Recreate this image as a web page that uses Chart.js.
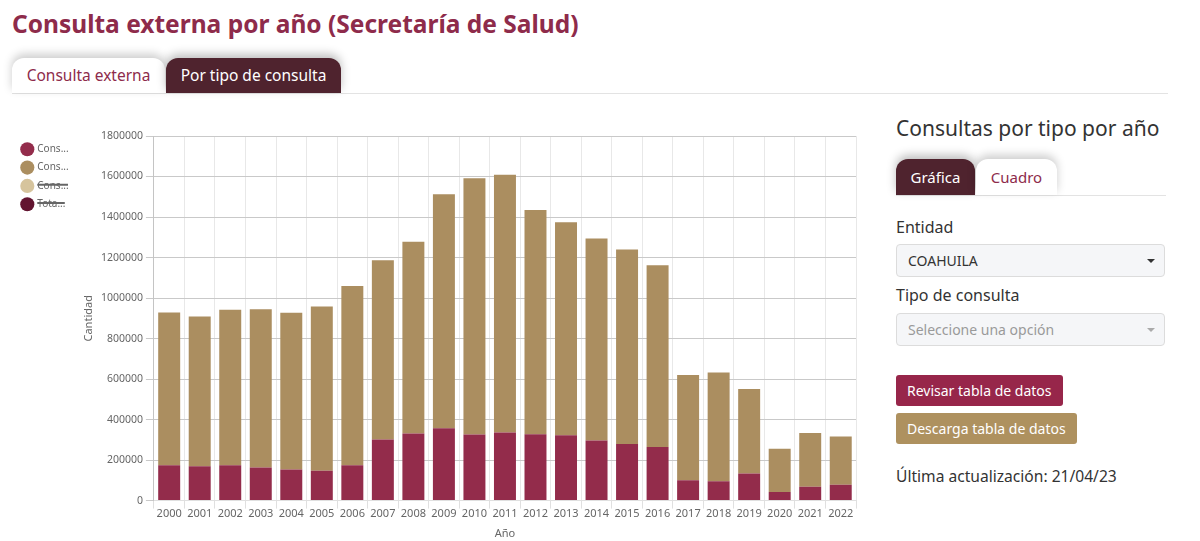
<!DOCTYPE html>
<html lang="es">
<head>
<meta charset="utf-8">
<script src="https://cdn.jsdelivr.net/npm/chart.js@4.4.0/dist/chart.umd.min.js"></script>
<style>
  html, body { margin: 0; padding: 0; background: #fff; }
  body { width: 1200px; height: 541px; position: relative; overflow: hidden; font-family: "Noto Sans", sans-serif; color: #333; }
  h1 { position: absolute; left: 12px; top: 7px; margin: 0; font-size: 24.5px; font-weight: 700; color: #8e2b4b; letter-spacing: 0; }
  .tabs { position: absolute; left: 12px; top: 58px; width: 1156px; height: 35px; border-bottom: 1px solid #e3e3e3; }
  .tab { position: absolute; top: 0; height: 35px; line-height: 34px; font-size: 15.5px; text-align: center; border-radius: 12px 12px 0 0; box-sizing: border-box; }
  .tab.on { background: #4f232e; color: #fff; box-shadow: 0 -4px 10px rgba(0,0,0,0.25); }
  .tab.off { background: #fff; color: #8e2b4b; box-shadow: 0 -4px 10px rgba(0,0,0,0.2); }
  #chartBox { position: absolute; left: 0; top: 118px; width: 872px; height: 423px; }
  .side { position: absolute; left: 896px; top: 0; width: 272px; }
  .side h2 { position: absolute; left: 0; top: 114px; margin: 0; font-size: 21px; font-weight: 400; color: #333; white-space: nowrap; }
  .side .tabs2 { position: absolute; left: 0; top: 159px; width: 270px; height: 36px; border-bottom: 1px solid #e3e3e3; }
  .side .tab { height: 36px; line-height: 36px; font-size: 15px; }
  .lbl { position: absolute; left: 0; font-size: 16px; color: #333; }
  .sel { position: absolute; left: 0; width: 269px; height: 33px; box-sizing: border-box; background: #f5f6f8; border: 1px solid #dcdcdc; border-radius: 4px; font-size: 14px; line-height: 31px; padding-left: 11px; }
  .sel .caret { position: absolute; right: 9px; top: 14px; width: 0; height: 0; border-left: 4px solid transparent; border-right: 4px solid transparent; border-top: 4px solid #333; }
  .sel.dis { color: #9a9a9a; }
  .sel.dis .caret { border-top-color: #aaa; }
  .btn { position: absolute; left: 0; height: 31px; line-height: 31px; padding: 0 11px; font-size: 14px; color: #fff; border-radius: 3px; white-space: nowrap; }
</style>
</head>
<body>
<h1>Consulta externa por año (Secretaría de Salud)</h1>
<div class="tabs">
  <div class="tab off" style="left:0;width:153px;">Consulta externa</div>
  <div class="tab on" style="left:154px;width:175px;">Por tipo de consulta</div>
</div>

<div id="chartBox"><canvas id="consultasCht"></canvas></div>

<div class="side">
  <h2>Consultas por tipo por año</h2>
  <div class="tabs2">
    <div class="tab on" style="left:0;width:79px;">Gráfica</div>
    <div class="tab off" style="left:80px;width:81px;">Cuadro</div>
  </div>
  <div class="lbl" style="top:216px;">Entidad</div>
  <div class="sel" style="top:244px;">COAHUILA<span class="caret"></span></div>
  <div class="lbl" style="top:284px;">Tipo de consulta</div>
  <div class="sel dis" style="top:313px;">Seleccione una opción<span class="caret"></span></div>
  <div class="btn" style="top:375px;background:#97264a;">Revisar tabla de datos</div>
  <div class="btn" style="top:413px;background:#ae915f;">Descarga tabla de datos</div>
  <div class="lbl" style="top:465px;font-size:15.6px;">Última actualización: 21/04/23</div>
</div>

<script>
let years = ['2000','2001','2002','2003','2004','2005','2006','2007','2008','2009','2010','2011',
             '2012','2013','2014','2015','2016','2017','2018','2019','2020','2021','2022'];

let primeraVez = [174000, 169000, 175000, 164000, 154000, 147000, 174000, 302000, 331000, 357000, 326000, 336000,
                  328000, 323000, 297000, 279000, 265000, 101000, 95000, 134000, 43000, 68000, 78000];

let subsecuente = [755000, 740000, 767000, 781000, 773000, 811000, 885000, 885000, 947000, 1156000, 1266000, 1273000,
                   1107000, 1051000, 997000, 961000, 897000, 519000, 538000, 417000, 213000, 266000, 238000];

let urgencias = [];

let totales = [929000, 909000, 942000, 945000, 927000, 958000, 1059000, 1187000, 1279000, 1514000, 1593000, 1609000,
               1435000, 1374000, 1294000, 1239000, 1162000, 620000, 633000, 551000, 256000, 334000, 316000];

let yTicks = [0, 200000, 400000, 600000, 800000, 1000000, 1200000, 1400000, 1600000, 1800000];

var font = '"Noto Sans", sans-serif';
Chart.defaults.font.family = font;
Chart.defaults.color = '#666';

var ctx = document.getElementById('consultasCht');
var consultasChart = new Chart(ctx, {
    type: 'bar',
    data: {
        labels: years,
        datasets: [{
            label: 'Consulta de primera vez',
            data: primeraVez,
            backgroundColor: 'rgb(147, 44, 75)'
        }, {
            label: 'Consulta subsecuente',
            data: subsecuente,
            backgroundColor: 'rgb(171, 142, 96)'
        }, {
            label: 'Consulta de urgencias',
            data: urgencias,
            backgroundColor: 'rgb(214, 196, 157)',
            hidden: true
        }, {
            label: 'Total',
            data: totales,
            backgroundColor: 'rgb(98, 20, 48)',
            hidden: true
        }]
    },
    options: {
        responsive: true,
        maintainAspectRatio: false,
        animation: false,
        layout: { padding: { left: 14, right: 16, top: 18, bottom: 0 } },
        plugins: {
            legend: {
                position: 'left',
                align: 'start',
                labels: {
                    usePointStyle: true,
                    pointStyle: 'circle',
                    padding: 8.3,
                    color: '#666',
                    font: { size: 10 },
                    generateLabels: function(chart) {
                        let items = Chart.defaults.plugins.legend.labels.generateLabels(chart);
                        return items.map(function(item) {
                            item.text = item.text.substring(0, 4) + '...';
                            return item;
                        });
                    }
                }
            },
            tooltip: { enabled: false }
        },
        scales: {
            x: {
                stacked: true,
                title: { display: true, text: 'Año', font: { size: 11 }, color: '#666', padding: { top: 7, bottom: 1 } },
                ticks: { font: { size: 11 }, color: '#666', maxRotation: 0, padding: -1 },
                grid: { color: '#e8e8e8', tickColor: '#e0e0e0' },
                border: { color: '#e0e0e0' }
            },
            y: {
                stacked: true,
                min: 0,
                max: yTicks[yTicks.length - 1],
                afterBuildTicks: function(axis) {
                    axis.ticks = yTicks.map(function(v) { return { value: v }; });
                },
                title: { display: true, text: 'Cantidad', font: { size: 11 }, color: '#666', padding: { top: 4, bottom: 2 } },
                ticks: {
                    font: { size: 10.5 },
                    color: '#666',
                    padding: 3,
                    callback: function(v) { return String(v); }
                },
                grid: { color: '#c9c9c9', tickColor: '#c9c9c9' },
                border: { color: '#c4c4c4' }
            }
        }
    }
});
</script>
</body>
</html>
